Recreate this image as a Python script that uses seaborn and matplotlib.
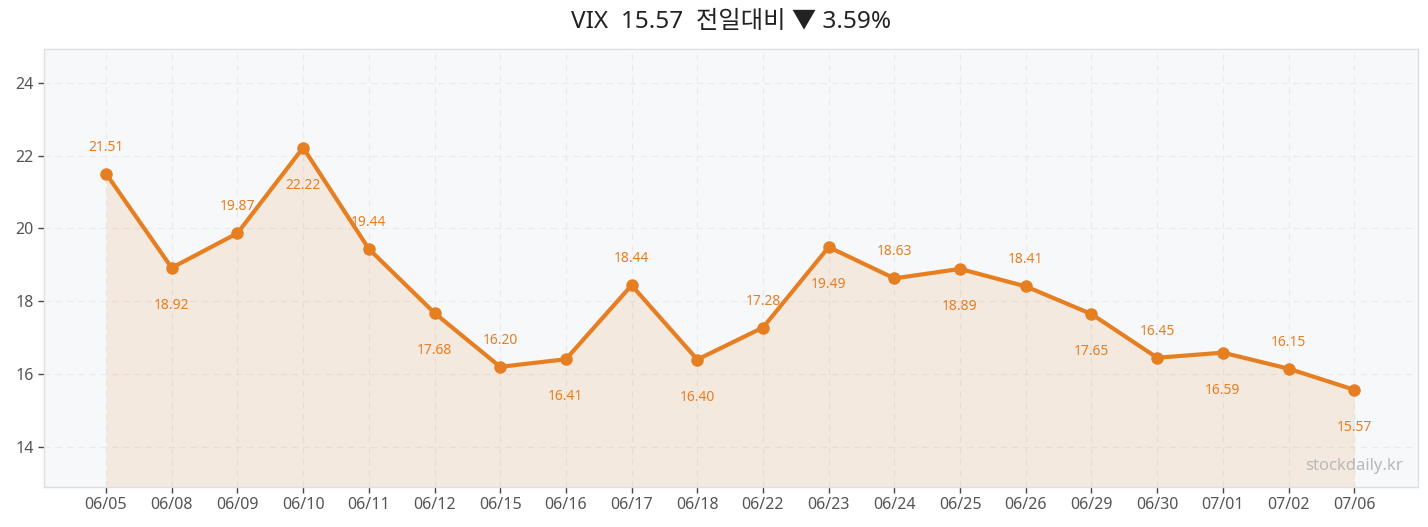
import matplotlib
matplotlib.use("Agg")
import matplotlib.pyplot as plt
import seaborn as sns
import pandas as pd

dates = ["06/05", "06/08", "06/09", "06/10", "06/11", "06/12", "06/15", "06/16", "06/17", "06/18",
         "06/22", "06/23", "06/24", "06/25", "06/26", "06/29", "06/30", "07/01", "07/02", "07/06"]
values = [21.51, 18.92, 19.87, 22.22, 19.44, 17.68, 16.20, 16.41, 18.44, 16.40,
          17.28, 19.49, 18.63, 18.89, 18.41, 17.65, 16.45, 16.59, 16.15, 15.57]
title_text = "VIX  15.57  전일대비 ▼ 3.59%"
yticks = [14, 16, 18, 20, 22, 24]

sns.set_theme(style="white")
plt.rcParams['font.family'] = ['Noto Sans', 'Noto Sans CJK KR', 'DejaVu Sans']

color = "#e67e22"
df = pd.DataFrame({"x": range(len(dates)), "v": values})

fig = plt.figure(figsize=(14.28, 5.27), dpi=100)
ax = fig.add_axes([44/1428, 1 - 487/527, (1418-44)/1428, (487-49)/527])
ax.set_facecolor("#f7f8fa")

ax.fill_between(df["x"], df["v"], 12.9, color=color, alpha=0.12, linewidth=0, zorder=1)
sns.lineplot(data=df, x="x", y="v", ax=ax, color=color, linewidth=3, marker="o",
             markersize=9, markeredgewidth=0, zorder=3)

for i, v in enumerate(values):
    if i % 2 == 0:
        ax.annotate(f"{v:.2f}", (i, v), xytext=(0, 19), textcoords="offset points",
                    ha="center", va="center", fontsize=10, color=color)
    else:
        ax.annotate(f"{v:.2f}", (i, v), xytext=(0, -27), textcoords="offset points",
                    ha="center", va="center", fontsize=10, color=color)

ax.set_xlim(-0.944, 19.97)
ax.set_ylim(12.9, 24.93)
ax.set_xticks(range(len(dates)))
ax.set_xticklabels(dates)
ax.set_yticks(yticks)
ax.tick_params(axis="both", labelsize=11.5, labelcolor="#555555", length=4, width=1,
               direction="out", bottom=True, left=True, color="#444444")
ax.grid(True, linestyle=(0, (5, 4)), color="#e8eaee", linewidth=0.9, zorder=0)
ax.set_axisbelow(True)
for s in ax.spines.values():
    s.set_color("#dcdfe4")
    s.set_linewidth(1)
ax.set_xlabel("")
ax.set_ylabel("")

ax.text(0.989, 0.03, "stockdaily.kr", transform=ax.transAxes, ha="right", va="bottom",
        fontsize=12, color="#b8b8b8")

fig.text(731/1428, 1 - 22/527, title_text, ha="center", va="center", fontsize=17.5,
         color="#222222", fontweight="medium")

fig.savefig("out.png", dpi=100)
